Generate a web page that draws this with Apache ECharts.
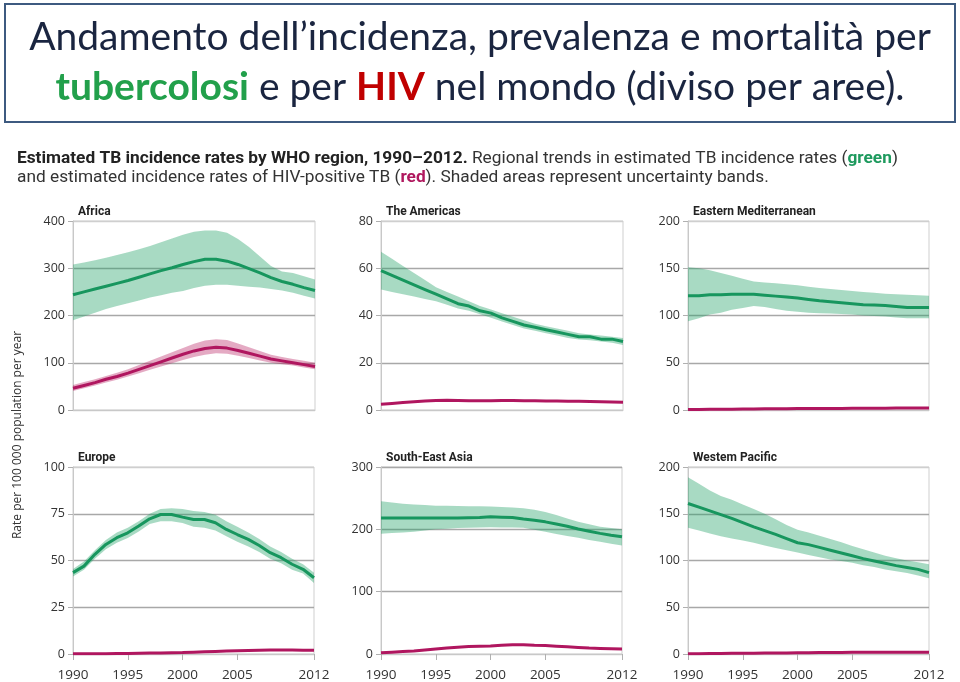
<!DOCTYPE html>
<html>
<head>
<meta charset="utf-8">
<script src="https://cdn.jsdelivr.net/npm/echarts@6/dist/echarts.min.js"></script>
<style>
html,body{margin:0;padding:0;background:#fff;}
#chart{width:960px;height:682px;}
</style>
</head>
<body>
<div id="chart"></div>
<script>
// ---------- DATA ----------
const years = ['1990','1991','1992','1993','1994','1995','1996','1997','1998','1999','2000','2001','2002','2003','2004','2005','2006','2007','2008','2009','2010','2011','2012'];
const shownYears = ['1990','1995','2000','2005','2012'];

const regionNames = ['Africa','The Americas','Eastern Mediterranean','Europe','South-East Asia','Westem Pacific'];
const yMax = [400, 80, 200, 100, 300, 200];
const yStep = [100, 20, 50, 25, 100, 50];

// Africa
const africaTB     = [244,250,256,262,268,274,281,288,295,301,308,314,319,319,315,308,299,290,280,272,266,259,253];
const africaTBLow  = [190,198,206,214,220,226,232,238,243,248,252,258,263,265,265,263,261,259,256,253,248,242,236];
const africaTBHigh = [308,312,317,322,328,334,340,347,355,363,371,377,380,380,375,362,345,325,305,293,290,283,276];
const africaHIV     = [46,52,58,65,71,78,86,94,102,110,118,125,130,133,131,126,120,114,108,104,100,96,92];
const africaHIVLow  = [40,46,52,58,64,71,78,85,92,99,106,112,117,120,119,115,110,105,100,97,94,90,86];
const africaHIVHigh = [53,59,65,72,79,86,95,104,113,122,131,140,147,150,148,141,133,125,117,112,108,104,100];

// The Americas
const americasTB     = [59,57,55,53,51,49,47,45,44,42,41,39,37.5,36,35,34,33,32,31,31,30,30,29];
const americasTBLow  = [51,50,49,48,47,46,44.5,43,42,40.5,39,37.5,36,34.5,33.5,32.5,31.5,30.5,29.8,29.5,29,28.5,27.5];
const americasTBHigh = [67,64,61,58,55,52,50,48,46,44,42.5,41,39.5,38,36.5,35.5,34.5,33.5,32.5,32,31.5,31,30.5];
const americasHIV    = [2.4,2.8,3.2,3.5,3.8,4.0,4.1,4.0,3.9,3.9,3.9,4.0,4.0,3.9,3.9,3.8,3.8,3.7,3.7,3.6,3.5,3.4,3.3];

// Eastern Mediterranean
const emrTB     = [121,121,122,122,122.5,122.5,122.5,121.5,120.5,119.5,118.5,117,115.5,114.5,113.5,112.5,111.5,111,110.5,109.5,108.5,108.5,108.5];
const emrTBLow  = [94,97,101,103,106,108,110,109,107,105,104,103,102.5,102,101.5,101,100,99.5,99,98,97,97,97];
const emrTBHigh = [151,150,148,145,142,139,136,135,134,133,132,130.5,129,128,127,126,125,124,123,122.5,122,121.5,121];
const emrHIV    = [0.5,0.6,0.7,0.8,0.9,1,1.1,1.2,1.3,1.4,1.5,1.6,1.6,1.7,1.7,1.8,1.8,1.9,1.9,2,2,2,2];

// Europe
const europeTB     = [43.5,47,53.3,58.6,62.2,64.8,68.4,72.3,74.6,74.6,73.2,71.9,71.9,70.2,66.6,63.9,61.3,58,54.2,51.5,48,45.3,40.8];
const europeTBLow  = [41.5,45,51,56,59.5,62,65.5,69.5,71,71,70,68,67.5,66,63,60,57.5,54.5,51,48.5,45,43,38];
const europeTBHigh = [45.5,49.5,55.5,61,65,67.5,71,75,77.5,78,77.5,76.5,76,74.5,71,68,65,61.5,57.5,54.5,51,48,43.5];
const europeHIV    = [0.1,0.1,0.2,0.2,0.3,0.3,0.4,0.5,0.6,0.7,0.8,1.0,1.2,1.4,1.6,1.8,1.9,2.0,2.1,2.1,2.1,2.0,2.0];

// South-East Asia
const seaTB     = [218,218,218,218,218,218,218,218,218.5,219,220,219.5,219,216.5,214.5,212,208.5,205,200.5,197,193.5,190.5,188];
const seaTBLow  = [193,194,195,196,198,200,201,202,202.5,203,203.5,203,203,202.5,199.5,196,192.5,189.5,186.5,183,180,177,174];
const seaTBHigh = [245,243,241,240,239,238,238,237.5,237,237,236.5,236,235,234,231.5,228,223,217.5,212,208,204,202,200];
const seaHIV    = [2,3,4,5,6.5,8,9.5,11,12,12.5,13,14,15,15,14,13.5,12.5,11.5,10.5,9.5,9,8.5,8];

// Western Pacific
const wprTB     = [161,157,153,149,145,140.5,136,132,128,123.5,119,117,114,111,108,105,102,99.5,97,94.5,92.5,90.5,87];
const wprTBLow  = [135,132,129,126,123.5,121.5,119,116,113.5,111,108.5,106,103.5,101,99.5,97.5,95,93,90.5,88.5,86.5,84,81];
const wprTBHigh = [189,182,175,169,165,160,155,150,144,138,133,130,126.5,123,119.5,115.5,112,108.5,105,102.5,100,98,96];
const wprHIV    = [0.3,0.4,0.5,0.6,0.7,0.8,0.9,1.0,1.1,1.2,1.3,1.4,1.5,1.6,1.7,1.8,1.8,1.9,1.9,2,2,2,2];

// ---------- CHART ----------
const TB_LINE = '#17965e';
const TB_BAND = 'rgba(30,160,100,0.39)';
const HIV_LINE = '#b0165f';
const HIV_BAND = 'rgba(180,20,90,0.36)';
const CAP_FONT = 'Roboto';
const CAP_SIZE = 17.3;

const panels = [
  {tb: africaTB, lo: africaTBLow, hi: africaTBHigh, hiv: africaHIV, hlo: africaHIVLow, hhi: africaHIVHigh},
  {tb: americasTB, lo: americasTBLow, hi: americasTBHigh, hiv: americasHIV},
  {tb: emrTB, lo: emrTBLow, hi: emrTBHigh, hiv: emrHIV},
  {tb: europeTB, lo: europeTBLow, hi: europeTBHigh, hiv: europeHIV},
  {tb: seaTB, lo: seaTBLow, hi: seaTBHigh, hiv: seaHIV},
  {tb: wprTB, lo: wprTBLow, hi: wprTBHigh, hiv: wprHIV}
];

const gridPos = [
  {left: 73, top: 221, width: 242, height: 189},
  {left: 381, top: 221, width: 242, height: 189},
  {left: 688, top: 221, width: 241, height: 189},
  {left: 73, top: 467, width: 241, height: 188},
  {left: 381, top: 467, width: 241, height: 188},
  {left: 688, top: 467, width: 241, height: 188}
];

const grids = [], xAxes = [], yAxes = [], series = [], titles = [];

function bandSeries(i, lo, hi, color, name) {
  series.push({
    type: 'line', xAxisIndex: i, yAxisIndex: i, stack: name + i,
    data: lo, showSymbol: false, symbol: 'none', lineStyle: {opacity: 0, width: 0},
    silent: true, z: 1
  });
  series.push({
    type: 'line', xAxisIndex: i, yAxisIndex: i, stack: name + i,
    data: hi.map((v, k) => +(v - lo[k]).toFixed(2)), showSymbol: false, symbol: 'none',
    lineStyle: {opacity: 0, width: 0}, areaStyle: {color: color, opacity: 1},
    silent: true, z: 1
  });
}

panels.forEach((p, i) => {
  const bottomRow = i >= 3;
  grids.push(Object.assign({show: true, borderColor: '#cfcfcf', borderWidth: 1, backgroundColor: 'transparent'}, gridPos[i]));
  xAxes.push({
    type: 'category', gridIndex: i, data: years, boundaryGap: false,
    axisLine: {show: true, lineStyle: {color: '#c8c8c8', width: 1}},
    axisTick: {show: bottomRow, length: 6, lineStyle: {color: '#b0b0b0'},
      interval: (idx, val) => shownYears.indexOf(val) >= 0},
    axisLabel: {show: bottomRow, margin: 14, color: '#333', fontSize: 13.5, fontFamily: 'Open Sans',
      interval: (idx, val) => shownYears.indexOf(val) >= 0},
    splitLine: {show: false}
  });
  yAxes.push({
    type: 'value', gridIndex: i, min: 0, max: yMax[i], interval: yStep[i],
    axisLine: {show: true, lineStyle: {color: '#c8c8c8'}},
    axisTick: {show: true, length: 5, lineStyle: {color: '#b0b0b0'}},
    axisLabel: {margin: 8, color: '#333', fontSize: 12.5, fontFamily: 'Open Sans'},
    splitLine: {show: true, lineStyle: {color: ['#cfcfcf', '#a8a8a8', '#a8a8a8', '#a8a8a8', '#cfcfcf'], width: 1.3}}
  });
  titles.push({
    text: regionNames[i], left: gridPos[i].left, top: gridPos[i].top - 20,
    textStyle: {fontSize: 12, fontWeight: 'bold', color: '#222', fontFamily: CAP_FONT}
  });
  bandSeries(i, p.lo, p.hi, TB_BAND, 'tb');
  if (p.hlo) bandSeries(i, p.hlo, p.hhi, HIV_BAND, 'hiv');
  series.push({type: 'line', xAxisIndex: i, yAxisIndex: i, data: p.tb, showSymbol: false, symbol: 'none',
    lineStyle: {color: TB_LINE, width: 3}, z: 3});
  series.push({type: 'line', xAxisIndex: i, yAxisIndex: i, data: p.hiv, showSymbol: false, symbol: 'none',
    lineStyle: {color: HIV_LINE, width: 3}, z: 3});
});

// main title
titles.push({
  text: 'Andamento dell\u2019incidenza, prevalenza e mortalit\u00e0 per',
  left: 'center', top: 13,
  textStyle: {fontSize: 39, fontWeight: 'normal', color: '#1a2540', fontFamily: 'Lato'}
});
titles.push({
  text: '{n|}{g|tubercolosi} e per {r|HIV} nel mondo (diviso per aree).',
  left: 'center', top: 63,
  textStyle: {fontSize: 39, fontWeight: 'normal', color: '#1a2540', fontFamily: 'Lato',
    rich: {
      n: {fontSize: 39, fontWeight: 'normal'},
      g: {fontSize: 39, fontWeight: 'bold', color: '#22a04b', fontFamily: 'Lato'},
      r: {fontSize: 39, fontWeight: 'bold', color: '#c00000', fontFamily: 'Lato'}
    }}
});
// figure caption
titles.push({
  text: '{b|Estimated TB incidence rates by WHO region, 1990\u20132012.} Regional trends in estimated TB incidence rates ({g|green})',
  left: 12, top: 145,
  textStyle: {fontSize: CAP_SIZE, fontWeight: 'normal', color: '#333', fontFamily: CAP_FONT,
    rich: {
      b: {fontSize: CAP_SIZE, fontWeight: 'bold', color: '#222', fontFamily: CAP_FONT},
      g: {fontSize: CAP_SIZE, fontWeight: 'bold', color: '#1e9a5e', fontFamily: CAP_FONT}
    }}
});
titles.push({
  text: 'and estimated incidence rates of HIV-positive TB ({r|red}). Shaded areas represent uncertainty bands.',
  left: 12, top: 164,
  textStyle: {fontSize: CAP_SIZE, fontWeight: 'normal', color: '#333', fontFamily: CAP_FONT,
    rich: {
      r: {fontSize: CAP_SIZE, fontWeight: 'bold', color: '#b0185e', fontFamily: CAP_FONT}
    }}
});

const chart = echarts.init(document.getElementById('chart'));
chart.setOption({
  animation: false,
  backgroundColor: '#fff',
  title: titles,
  grid: grids,
  xAxis: xAxes,
  yAxis: yAxes,
  series: series,
  graphic: [
    {type: 'rect', shape: {x: 5, y: 4, width: 950, height: 118}, style: {fill: 'none', stroke: '#3d5a80', lineWidth: 2}, z: 100},
    {type: 'text', x: 18, y: 435, rotation: Math.PI / 2,
      style: {text: 'Rate per 100 000 population per year', fill: '#333', font: '12px "Open Sans"', textAlign: 'center', textVerticalAlign: 'middle'}}
  ]
});
</script>
</body>
</html>
